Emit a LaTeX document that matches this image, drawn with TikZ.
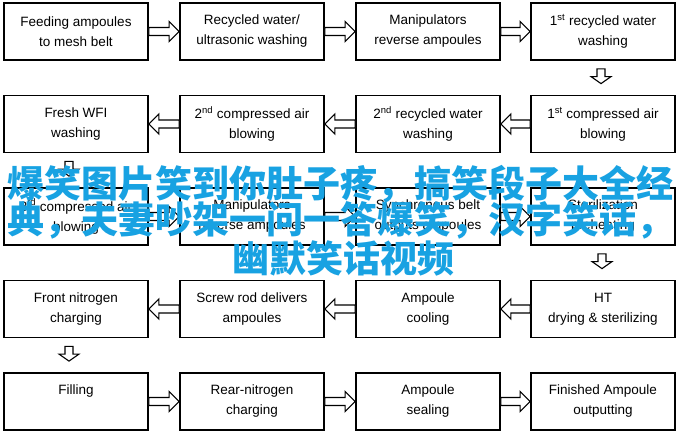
\documentclass[tikz,border=0pt]{standalone}
\usepackage{fontspec}
\setmainfont{Liberation Sans}
\newfontfamily\cjkfont{Noto Sans CJK SC}
\usetikzlibrary{calc}
\definecolor{jokeblue}{RGB}{24,162,226}
\tikzset{
  box/.style={draw, line width=1.8pt, minimum width=144pt, minimum height=57pt, inner sep=0pt, align=center, font=\fontsize{13.5}{20}\selectfont},
  barrow/.style={draw, line width=1.1pt, fill=white, line join=miter},
  overlay text/.style={text=jokeblue, inner sep=0pt, font=\cjkfont\bfseries\fontsize{37}{40}\selectfont}
}
\newcommand\rarr[2]{%
  \draw[barrow] let \p1=(#1.east), \p2=(#2.west) in
    (\x1,\y1+4pt) -- (\x2-10pt,\y1+4pt) -- (\x2-10pt,\y1+10pt) -- (\x2,\y1)
    -- (\x2-10pt,\y1-10pt) -- (\x2-10pt,\y1-4pt) -- (\x1,\y1-4pt) -- cycle;}
\newcommand\larr[2]{%
  \draw[barrow] let \p1=(#1.west), \p2=(#2.east) in
    (\x1,\y1+4pt) -- (\x2+10pt,\y1+4pt) -- (\x2+10pt,\y1+10pt) -- (\x2,\y1)
    -- (\x2+10pt,\y1-10pt) -- (\x2+10pt,\y1-4pt) -- (\x1,\y1-4pt) -- cycle;}
\newcommand\darr[3]{%
  \draw[barrow] let \p1=($(#1.south)+(#3,0)$), \p2=($(#2.north)+(#3,0)$) in
    (\x1-4pt,\y1-8pt) -- (\x1-4pt,\y2+18pt) -- (\x1-10pt,\y2+18pt) -- (\x1,\y2+11pt)
    -- (\x1+10pt,\y2+18pt) -- (\x1+4pt,\y2+18pt) -- (\x1+4pt,\y1-8pt) -- cycle;}
\begin{document}
\begin{tikzpicture}[x=1pt,y=-1pt]
\useasboundingbox[fill=white] (0,0) rectangle (683,436);
% row 1
\node[box] (a1) at (76,31.5) {Feeding ampoules\\to mesh belt};
\node[box] (a2) at (252,31.5) {Recycled water/\\ultrasonic washing};
\node[box] (a3) at (428,31.5) {Manipulators\\reverse ampoules};
\node[box] (a4) at (603,31.5) {1\textsuperscript{st} recycled water\\washing};
% row 2
\node[box] (b1) at (76,124) {Fresh WFI\\washing};
\node[box] (b2) at (252,124) {2\textsuperscript{nd} compressed air\\blowing};
\node[box] (b3) at (428,124) {2\textsuperscript{nd} recycled water\\washing};
\node[box] (b4) at (603,124) {1\textsuperscript{st} compressed air\\blowing};
% row 3
\node[box] (c1) at (76,216.5) {3\textsuperscript{rd} compressed air\\blowing};
\node[box] (c2) at (252,216.5) {Manipulators\\reverse ampoules};
\node[box] (c3) at (428,216.5) {Synchronous belt\\outputs ampoules};
\node[box] (c4) at (603,216.5) {Sterilization\\preheating};
% row 4
\node[box] (d1) at (76,309) {Front nitrogen\\charging};
\node[box] (d2) at (252,309) {Screw rod delivers\\ampoules};
\node[box] (d3) at (428,309) {Ampoule\\cooling};
\node[box] (d4) at (603,309) {HT\\drying \& sterilizing};
% row 5
\node[box] (e1) at (76,401.5) {Filling\\\phantom{g}};
\node[box] (e2) at (252,401.5) {Rear-nitrogen\\charging};
\node[box] (e3) at (428,401.5) {Ampoule\\sealing};
\node[box] (e4) at (603,401.5) {Finished Ampoule\\outputting};
% arrows
\rarr{a1}{a2}\rarr{a2}{a3}\rarr{a3}{a4}
\darr{a4}{b4}{-2}
\larr{b4}{b3}\larr{b3}{b2}\larr{b2}{b1}
\darr{b1}{c1}{-7}
\rarr{c1}{c2}\rarr{c2}{c3}\rarr{c3}{c4}
\darr{c4}{d4}{-1}
\larr{d4}{d3}\larr{d3}{d2}\larr{d2}{d1}
\darr{d1}{e1}{-7}
\rarr{e1}{e2}\rarr{e2}{e3}\rarr{e3}{e4}
% overlay text
\node[overlay text, anchor=west] (t1) at (7,184) {爆笑图片笑到你肚子疼，搞笑段子大全经};
\node[overlay text, anchor=west] (t2) at (7,220) {典，夫妻吵架一问一答爆笑，汉字笑话，};
\node[overlay text] (t3) at (343,258) {幽默笑话视频};
\end{tikzpicture}
\end{document}
